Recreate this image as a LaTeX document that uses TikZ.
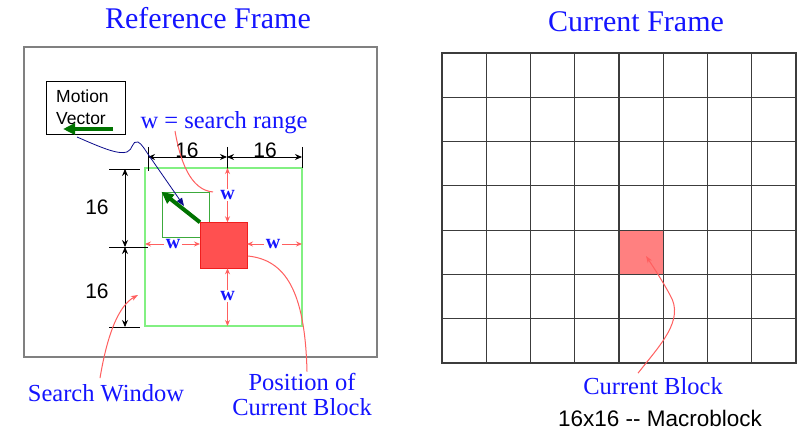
\documentclass[tikz,border=0pt]{standalone}
\usepackage{fontspec}
\setmainfont{Liberation Serif}
\newfontfamily\hvfont{Liberation Sans}
\usetikzlibrary{arrows.meta}
\definecolor{txtblue}{RGB}{20,20,255}
\definecolor{ptred}{RGB}{255,95,95}
\definecolor{winGreen}{RGB}{130,240,130}
\definecolor{matchGreen}{RGB}{60,170,60}
\definecolor{mvGreen}{RGB}{0,115,0}
\definecolor{blkRed}{RGB}{255,80,80}
\definecolor{blkEdge}{RGB}{240,30,30}
\definecolor{cellRed}{RGB}{255,128,128}
\definecolor{gridGray}{RGB}{60,60,60}
\definecolor{frameGray}{RGB}{128,128,128}
\definecolor{navyc}{RGB}{10,10,140}
\tikzset{
  titletxt/.style={text=txtblue, font=\fontsize{30}{34}\selectfont, inner sep=0pt},
  bluetxt/.style={text=txtblue, font=\fontsize{24.5}{26}\selectfont, inner sep=0pt, align=center},
  wlab/.style={text=txtblue, font=\bfseries\fontsize{20}{22}\selectfont, inner sep=1.5pt},
  dimlab/.style={font=\hvfont\fontsize{21}{24}\selectfont, inner sep=0pt},
  dimline/.style={black, line width=0.9pt, {Stealth[length=7pt,width=6pt]}-{Stealth[length=7pt,width=6pt]}},
  tickline/.style={black, line width=0.9pt},
  warrow/.style={ptred, line width=0.9pt, -{Stealth[length=6pt,width=5pt,inset=2pt]}},
  pointer/.style={ptred, line width=1pt},
  mvarrow/.style={mvGreen, line width=4pt, -{Triangle[length=12pt,width=11pt]}, shorten >=-2pt},
  boxnode/.style={inner sep=0pt, outer sep=0pt}
}
\begin{document}
\begin{tikzpicture}[x=1pt,y=-1pt]
\useasboundingbox (0,0) rectangle (803,433);
\fill[white] (0,0) rectangle (803,433);

% titles
\node[titletxt] (reftitle) at (208,18) {Reference Frame};
\node[titletxt] (curtitle) at (636,22) {Current Frame};

% reference frame border
\node[boxnode, draw=frameGray, line width=1.2pt, minimum width=353pt, minimum height=310pt] (refframe) at (200.5,202) {};

% motion vector box
\node[boxnode, draw=black, line width=0.9pt, minimum width=79pt, minimum height=53pt] (mv) at (85.5,107.5) {};
\node[font=\hvfont\fontsize{17.5}{22}\selectfont, align=left, inner sep=0pt, anchor=west] (mvtext) at (56,107) {Motion\\Vector};
\coordinate (mvA) at (113,129);
\coordinate (mvB) at (63,129);
\draw[mvarrow, shorten >=0pt] (mvA) -- (mvB);

% search range label
\node[bluetxt] (srange) at (224,123) {w = search range};

% search window, match block, current block
\node[boxnode, draw=winGreen, line width=1.2pt, minimum width=157pt, minimum height=158pt] (win) at (223.5,247) {};
\node[boxnode, draw=matchGreen, line width=0.9pt, minimum width=47pt, minimum height=45pt] (match) at (185.5,214.5) {};
\node[boxnode, draw=blkEdge, fill=blkRed, line width=1pt, minimum width=47pt, minimum height=46pt] (blk) at (223.5,245.3) {};

% motion vector arrow
\draw[mvarrow] (blk.north west) -- ([xshift=1pt,yshift=-1pt]match.north west);

% dimension lines (top)
\coordinate (d1) at (148,157);
\coordinate (d2) at (227,157);
\coordinate (d3) at (302,157);
\draw[tickline] (148,147) -- (148,171);
\draw[tickline] (227,147) -- (227,170);
\draw[tickline] (302,147) -- (302,168);
\draw[dimline] (d1) -- (d2);
\draw[dimline] (d2) -- (d3);
\node[dimlab] (l16a) at (187,150) {16};
\node[dimlab] (l16b) at (265,150) {16};

% dimension lines (left)
\coordinate (e1) at (125,169);
\coordinate (e2) at (125,247);
\coordinate (e3) at (125,327);
\draw[tickline] (109,169) -- (140,169);
\draw[tickline] (109,247) -- (148,247);
\draw[tickline] (109,327) -- (140,327);
\draw[dimline] (e1) -- (e2);
\draw[dimline] (e2) -- (e3);
\node[dimlab] (l16c) at (97,207) {16};
\node[dimlab] (l16d) at (97,291) {16};

% w labels and arrows
\node[wlab] (wt) at (227.5,195) {w};
\node[wlab] (wb) at (227.5,296) {w};
\node[wlab] (wl) at (173,244) {w};
\node[wlab] (wr) at (273,244) {w};
\draw[warrow] (wt) -- (wt |- win.north);
\draw[warrow] (wt) -- (wt |- blk.north);
\draw[warrow] (wb) -- (wb |- win.south);
\draw[warrow] (wb) -- (wb |- blk.south);
\draw[warrow] (wl) -- (wl -| win.west);
\draw[warrow] (wl) -- (wl -| blk.west);
\draw[warrow] (wr) -- (wr -| win.east);
\draw[warrow] (wr) -- (wr -| blk.east);

% navy pointer from motion vector box
\coordinate (mvs) at (77,137);
\coordinate (mvt) at (184,206);
\draw[navyc, line width=0.8pt, -{Triangle[length=8pt,width=6pt]}]
  (mvs) .. controls (100,147) and (118,155) .. (127,152)
        .. controls (133,150) and (132,140) .. (138,142)
        .. controls (142,144) and (145,150) .. (150,157) -- (mvt);

% red pointer from search range label to w
\coordinate (wpt) at (213,192);
\draw[pointer] ([xshift=-49pt,yshift=-8pt]srange.center) .. controls (180,160) and (190,190) .. (wpt);

% bottom labels
\node[bluetxt] (sw) at (106,393) {Search Window};
\node[bluetxt, font=\fontsize{24.5}{25}\selectfont] (pos) at (302,394) {Position of\\Current Block};
\coordinate (swt) at (138,295);
\draw[pointer, -{Stealth[length=7pt,width=5pt,inset=2pt]}] ([xshift=-6pt,yshift=6pt]sw.north) .. controls (108,330) and (120,305) .. (swt);
\coordinate (posEnd) at (248,256);
\draw[pointer] ([xshift=5pt,yshift=1pt]pos.north) .. controls (305,290) and (285,260) .. (posEnd);

% current frame grid
\foreach \i in {0,...,7} {
  \foreach \j in {0,...,6} {
    \node[boxnode, draw=gridGray, line width=1.1pt, minimum width=44.25pt, minimum height=44.29pt]
      (c\i\j) at ({442+44.25*(\i+0.5)},{53+44.29*(\j+0.5)}) {};
  }
}
\node[boxnode, draw=gridGray, fill=cellRed, line width=1.1pt, minimum width=44.25pt, minimum height=44.29pt] (curblk) at (c44) {};

\node[bluetxt] (cb) at (653,386) {Current Block};
\node[font=\hvfont\fontsize{22.5}{25}\selectfont, inner sep=0pt] (macro) at (660,418) {16x16 -- Macroblock};
\coordinate (cbt) at (646,256);
\draw[pointer, -{Stealth[length=7pt,width=5pt,inset=2pt]}] ([xshift=-15pt,yshift=4pt]cb.north) .. controls (660,345) and (685,320) .. (670,295) .. controls (662,280) and (652,265) .. (cbt);
\end{tikzpicture}
\end{document}
